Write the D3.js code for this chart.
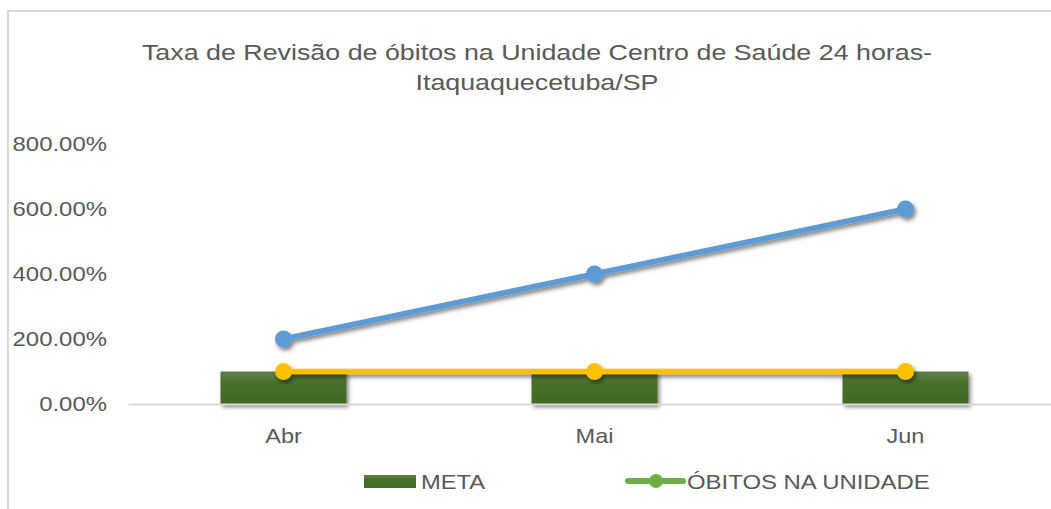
<!DOCTYPE html>
<html>
<head>
<meta charset="utf-8">
<title>Taxa de Revisão de óbitos</title>
<script src="https://cdn.jsdelivr.net/npm/d3@7"></script>
<style>
  body { margin: 0; background: #fff; font-family: "Liberation Sans", Arial, sans-serif; }
  svg text { fill: #595959; }
</style>
</head>
<body>
<svg id="chart" width="1051" height="509"></svg>
<script>
var categories = ["Abr", "Mai", "Jun"];
var meta = [1, 1, 1];            // barras (META)
var revisao = [2, 4, 6];         // linha azul
var referencia = [1, 1, 1];      // linha amarela
var yTicks = [0, 2, 4, 6, 8];
var titleLines = ["Taxa de Revisão de óbitos na Unidade Centro de Saúde 24 horas-", "Itaquaquecetuba/SP"];
var legendItems = [{name: "META", type: "bar"}, {name: "ÓBITOS NA UNIDADE", type: "line"}];

var svg = d3.select("#chart");
var defs = svg.append("defs");

var shadow = defs.append("filter").attr("id", "shadow")
    .attr("x", "-20%").attr("y", "-20%").attr("width", "140%").attr("height", "140%");
shadow.append("feDropShadow").attr("dx", 2).attr("dy", 3)
    .attr("stdDeviation", 2.2).attr("flood-color", "#000").attr("flood-opacity", 0.5);

var grad = defs.append("linearGradient").attr("id", "barGrad")
    .attr("x1", 0).attr("y1", 0).attr("x2", 0).attr("y2", 1);
grad.append("stop").attr("offset", "0%").attr("stop-color", "#5f7f4c");
grad.append("stop").attr("offset", "35%").attr("stop-color", "#46702a");
grad.append("stop").attr("offset", "100%").attr("stop-color", "#426924");

// stretch text horizontally around its anchor x
function widen(sel, sx) {
  sel.each(function() {
    var t = d3.select(this);
    var ax = +t.attr("x") || 0;
    t.attr("transform", (t.attr("transform") || "") + " translate(" + ax + ",0) scale(" + sx + ",1) translate(" + (-ax) + ",0)");
  });
}

// chart frame
svg.append("rect").attr("x", 8).attr("y", 11).attr("width", 1100).attr("height", 560)
    .attr("fill", "none").attr("stroke", "#d9d9d9").attr("stroke-width", 2);

// title
svg.append("g").selectAll("text").data(titleLines).join("text")
    .attr("x", 537).attr("y", function(d, i) { return 60 + i * 30; })
    .attr("text-anchor", "middle").attr("font-size", 22)
    .text(function(d) { return d; })
    .call(widen, 1.22);

var x = d3.scaleBand().domain(categories).range([128, 1061]).padding(0);
var y = d3.scaleLinear().domain([0, 8]).range([404, 144]);

// y axis labels
var yAxis = svg.append("g").attr("transform", "translate(107,0)")
    .call(d3.axisLeft(y).tickValues(yTicks).tickSize(0).tickPadding(0)
      .tickFormat(function(d) { return d3.format(".2f")(d * 100) + "%"; }));
yAxis.select(".domain").remove();
yAxis.selectAll("text").attr("font-size", 21).attr("font-family", "Liberation Sans, Arial, sans-serif")
    .attr("fill", "#595959").attr("x", 0).call(widen, 1.14);

// bars
var barW = x.bandwidth() * 0.405;
svg.append("g").attr("filter", "url(#shadow)").selectAll("rect").data(meta).join("rect")
    .attr("x", function(d, i) { return x(categories[i]) + x.bandwidth() / 2 - barW / 2; })
    .attr("y", function(d) { return y(d); })
    .attr("width", barW)
    .attr("height", function(d) { return y(0) - y(d); })
    .attr("fill", "url(#barGrad)");

// x axis
var xAxis = svg.append("g").attr("transform", "translate(0," + y(0) + ")")
    .call(d3.axisBottom(x).tickSize(0).tickPadding(24).tickSizeOuter(0));
xAxis.select(".domain").attr("stroke", "#d9d9d9").attr("stroke-width", 2);
xAxis.selectAll("text").attr("font-size", 21).attr("font-family", "Liberation Sans, Arial, sans-serif")
    .attr("fill", "#595959").call(widen, 1.12);

function drawSeries(values, color) {
  var g = svg.append("g").attr("filter", "url(#shadow)");
  var line = d3.line()
    .x(function(d, i) { return x(categories[i]) + x.bandwidth() / 2; })
    .y(function(d) { return y(d); });
  g.append("path").datum(values).attr("d", line)
    .attr("fill", "none").attr("stroke", color).attr("stroke-width", 5.5).attr("stroke-linecap", "round");
  g.selectAll("circle").data(values).join("circle")
    .attr("cx", function(d, i) { return x(categories[i]) + x.bandwidth() / 2; })
    .attr("cy", function(d) { return y(d); })
    .attr("r", 8.5).attr("fill", color);
}
drawSeries(revisao, "#5b9bd5");
drawSeries(referencia, "#ffc000");

// legend
var lg = svg.append("g");
lg.append("rect").attr("x", 364).attr("y", 475).attr("width", 52).attr("height", 13).attr("fill", "url(#barGrad)");
lg.append("text").attr("x", 421).attr("y", 489).attr("font-size", 21).text(legendItems[0].name).call(widen, 1.13);
lg.append("line").attr("x1", 628).attr("x2", 683).attr("y1", 481).attr("y2", 481)
    .attr("stroke", "#70ad47").attr("stroke-width", 6).attr("stroke-linecap", "round");
lg.append("circle").attr("cx", 656).attr("cy", 481).attr("r", 7).attr("fill", "#70ad47");
lg.append("text").attr("x", 687).attr("y", 489).attr("font-size", 21).text(legendItems[1].name).call(widen, 1.14);
</script>
</body>
</html>
